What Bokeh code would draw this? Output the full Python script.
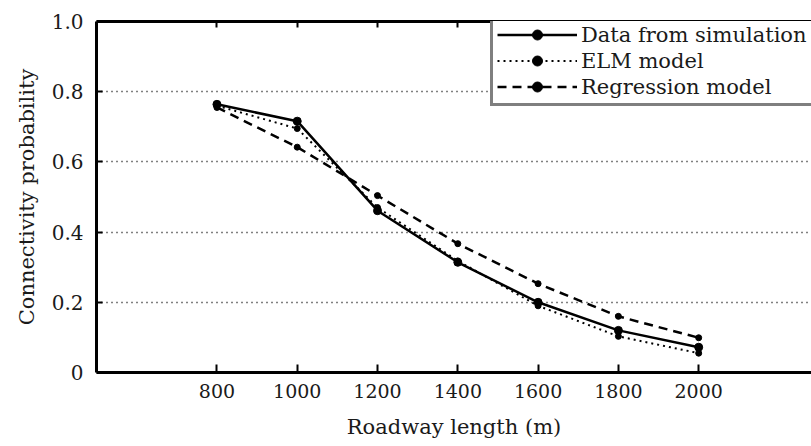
from bokeh.plotting import figure
from bokeh.models import (FixedTicker, LinearAxis, CustomJSTickFormatter, Legend,
                          LegendItem, Range1d)
from bokeh.embed import file_html
from bokeh.resources import INLINE

# ---- data ----
roadway_length = [800, 1000, 1200, 1400, 1600, 1800, 2000]
sim_prob = [0.764, 0.716, 0.461, 0.314, 0.200, 0.120, 0.072]
elm_prob = [0.760, 0.695, 0.470, 0.318, 0.190, 0.103, 0.055]
reg_prob = [0.755, 0.642, 0.504, 0.367, 0.253, 0.160, 0.099]
series_names = ["Data from simulation", "ELM model", "Regression model"]
x_ticks = [800, 1000, 1200, 1400, 1600, 1800, 2000]
y_ticks = [0, 0.2, 0.4, 0.6, 0.8, 1.0]

FONT = "DejaVu Serif"
INK = "#1a1a1a"

p = figure(frame_width=715, frame_height=351, output_backend="svg",
           toolbar_location=None, x_range=Range1d(500, 2281), y_range=Range1d(0, 1.0),
           min_border_left=96, min_border_top=21, min_border_right=0,
           min_border_bottom=60, x_axis_label="Roadway length (m)",
           y_axis_label="Connectivity probability")
p.outline_line_color = None
p.background_fill_color = "white"

# axes
for ax in [p.xaxis[0], p.yaxis[0]]:
    ax.axis_line_width = 3
    ax.axis_line_color = "black"
    ax.major_tick_line_width = 2
    ax.major_tick_line_color = "black"
    ax.minor_tick_line_color = None
    ax.major_tick_out = 0
    ax.major_label_text_font = FONT
    ax.major_label_text_font_size = "19px"
    ax.major_label_text_color = INK
    ax.axis_label_text_font = FONT
    ax.axis_label_text_font_size = "21px"
    ax.axis_label_text_font_style = "normal"
    ax.axis_label_text_color = INK

p.xaxis[0].ticker = FixedTicker(ticks=x_ticks)
p.xaxis[0].major_tick_in = 8
p.xaxis[0].major_label_standoff = 11
p.xaxis[0].axis_label_standoff = 14

p.yaxis[0].ticker = FixedTicker(ticks=y_ticks)
p.yaxis[0].major_label_text_font_size = "20px"
p.yaxis[0].major_tick_in = 6
p.yaxis[0].major_label_standoff = 13
p.yaxis[0].axis_label_standoff = 10
p.yaxis[0].formatter = CustomJSTickFormatter(
    code="return Math.abs(tick) < 1e-9 ? '0' : tick.toFixed(1);")

top = LinearAxis(ticker=FixedTicker(ticks=x_ticks))
top.axis_line_width = 3
top.axis_line_color = "black"
top.major_tick_in = 6
top.major_tick_out = 0
top.major_tick_line_width = 2
top.minor_tick_line_color = None
top.formatter = CustomJSTickFormatter(code="return '';")
top.major_label_standoff = 0
p.add_layout(top, "above")

# grid
p.xgrid.grid_line_color = None
p.ygrid.ticker = FixedTicker(ticks=[0.2, 0.4, 0.6, 0.8])
p.ygrid.grid_line_color = "black"
p.ygrid.grid_line_dash = "1 4"
p.ygrid.grid_line_width = 1.5

# series
l1 = p.line(roadway_length, sim_prob, line_color="black", line_width=2.5)
m1 = p.scatter(roadway_length, sim_prob, size=8, color="black")
l2 = p.line(roadway_length, elm_prob, line_color="black", line_width=2, line_dash="2 4")
m2 = p.scatter(roadway_length, elm_prob, size=6, color="black")
l3 = p.line(roadway_length, reg_prob, line_color="black", line_width=2.5, line_dash="9 6")
m3 = p.scatter(roadway_length, reg_prob, size=6, color="black")

legend = Legend(items=[LegendItem(label=series_names[0], renderers=[l1, m1]),
                       LegendItem(label=series_names[1], renderers=[l2, m2]),
                       LegendItem(label=series_names[2], renderers=[l3, m3])],
                location=(394, 266))
legend.glyph_width = 80
legend.glyph_height = 25
legend.label_height = 25
legend.label_width = 300
legend.label_standoff = 4
legend.spacing = 1
legend.padding = 4
legend.margin = 0
legend.border_line_color = "black"
legend.border_line_width = 3
legend.background_fill_color = "white"
legend.background_fill_alpha = 1
legend.label_text_font = FONT
legend.label_text_font_size = "21px"
legend.label_text_color = INK
p.add_layout(legend, "center")

open("out.html", "w").write(file_html(p, INLINE))
